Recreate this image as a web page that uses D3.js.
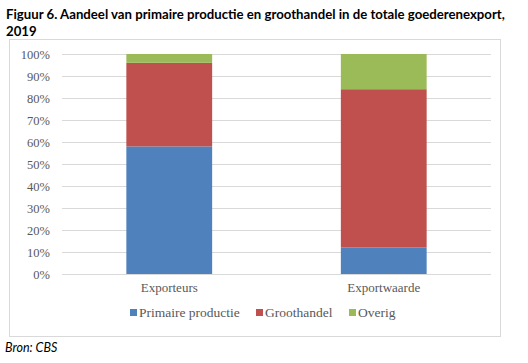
<!DOCTYPE html>
<html>
<head>
<meta charset="utf-8">
<script src="https://cdn.jsdelivr.net/npm/d3@7"></script>
<style>
  body { margin: 0; background: #fff; }
  svg { display: block; }
</style>
</head>
<body>
<div id="chart"></div>
<script>
// data (shares in %)
const categories = ["Exporteurs", "Exportwaarde"];
const seriesNames = ["Primaire productie", "Groothandel", "Overig"];
const primaire = [58, 12];
const groothandel = [38, 72];
const overig = [4, 16];
const yTicks = [0, 10, 20, 30, 40, 50, 60, 70, 80, 90, 100];

const colors = ["#4f81bd", "#c0504d", "#9bbb59"];

let width = 528, height = 363;
let margin = {top: 54, right: 37, bottom: 89, left: 62};

let svg = d3.select("#chart").append("svg")
    .attr("width", width)
    .attr("height", height);

// title
let title = svg.append("text")
    .attr("x", 6)
    .attr("y", 19)
    .style("font", "bold 13.2px Lato, sans-serif")
    .style("fill", "#000");
title.append("tspan").text("Figuur 6. Aandeel van primaire productie en groothandel in de totale goederenexport,");
title.append("tspan").attr("x", 6).attr("dy", 17).text("2019");

// chart frame
svg.append("rect")
    .attr("x", 9.5).attr("y", 39.5)
    .attr("width", 491).attr("height", 297)
    .style("fill", "none")
    .style("stroke", "#d9d9d9");

let x = d3.scaleBand()
    .domain(categories)
    .range([margin.left, width - margin.right])
    .paddingInner(0.6)
    .paddingOuter(0.3);

let y = d3.scaleLinear()
    .domain([0, 100])
    .range([height - margin.bottom, margin.top]);

// gridlines
svg.append("g")
    .selectAll("line")
    .data(yTicks)
  .enter().append("line")
    .attr("x1", margin.left)
    .attr("x2", width - margin.right)
    .attr("y1", d => Math.round(y(d)) + 0.5)
    .attr("y2", d => Math.round(y(d)) + 0.5)
    .style("stroke", "#d9d9d9");

// y axis labels
let yAxis = svg.append("g")
    .attr("transform", "translate(" + (margin.left - 9) + ",0)")
    .call(d3.axisLeft(y).tickValues(yTicks).tickSize(0).tickFormat(d => d + "%"));
yAxis.select(".domain").remove();
yAxis.selectAll("text")
    .style("font", "12.5px 'Liberation Serif', serif")
    .style("fill", "#595959");

// stacked bars
let table = categories.map((c, i) => ({cat: c, p: primaire[i], g: groothandel[i], o: overig[i]}));
let stack = d3.stack().keys(["p", "g", "o"])(table);

svg.append("g")
    .selectAll("g")
    .data(stack)
  .enter().append("g")
    .style("fill", (d, i) => colors[i])
    .selectAll("rect")
    .data(d => d)
  .enter().append("rect")
    .attr("x", d => x(d.data.cat))
    .attr("width", x.bandwidth())
    .attr("y", d => y(d[1]))
    .attr("height", d => y(d[0]) - y(d[1]));

// category labels
let xAxis = svg.append("g")
    .attr("transform", "translate(0," + (height - margin.bottom + 6) + ")")
    .call(d3.axisBottom(x).tickSize(0));
xAxis.select(".domain").remove();
xAxis.selectAll("text")
    .style("font", "13px 'Liberation Serif', serif")
    .style("fill", "#595959");

// legend
let legendX = [130, 256, 349];
let legend = svg.append("g")
    .selectAll("g")
    .data(seriesNames)
  .enter().append("g")
    .attr("transform", (d, i) => "translate(" + legendX[i] + ",317)");
legend.append("rect")
    .attr("x", 0).attr("y", -8)
    .attr("width", 7).attr("height", 7)
    .style("fill", (d, i) => colors[i]);
legend.append("text")
    .attr("x", 9)
    .attr("y", 0)
    .style("font", "13.5px 'Liberation Serif', serif")
    .style("fill", "#595959")
    .text(d => d);

// source
svg.append("text")
    .attr("x", 5)
    .attr("y", 352)
    .style("font", "italic 12.5px Lato, sans-serif")
    .style("fill", "#000")
    .text("Bron: CBS");
</script>
</body>
</html>
